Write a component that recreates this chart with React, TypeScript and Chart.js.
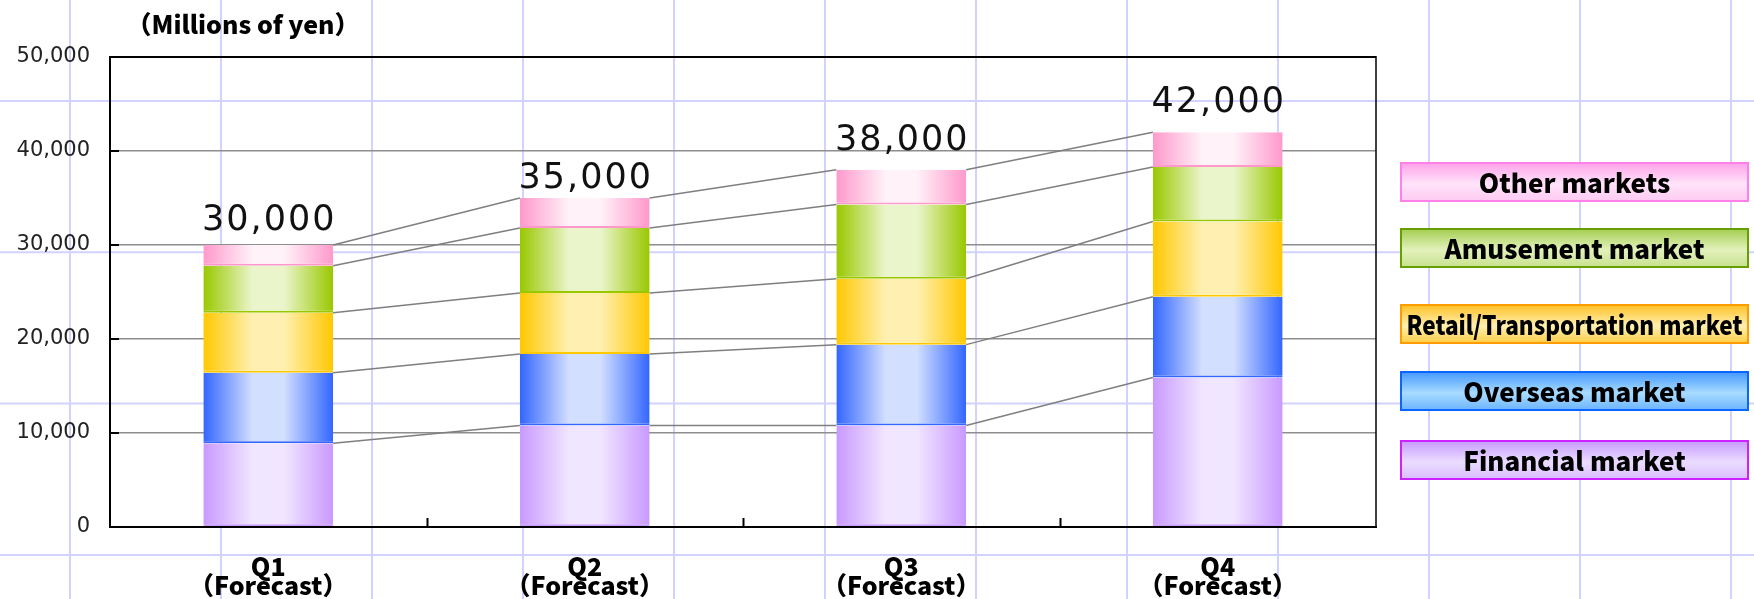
import { useEffect, useRef } from 'react';
import { Chart, registerables } from 'chart.js';

Chart.register(...registerables);

// ---- data ----
const quarters = ['Q1', 'Q2', 'Q3', 'Q4'];
const quarterNote = '（Forecast）';
const unitLabel = '（Millions of yen）';

const financial = [8900, 10800, 10800, 15900];
const overseas = [7500, 7600, 8600, 8600];
const retailTransport = [6400, 6500, 7000, 8000];
const amusement = [5000, 6900, 7900, 5800];
const otherMarkets = [2200, 3200, 3700, 3700];

const seriesNames = [
  'Financial market',
  'Overseas market',
  'Retail/Transportation market',
  'Amusement market',
  'Other markets',
];

const yMin = 0;
const yMax = 50000;
const yStep = 10000;

// ---- styles ----
const GOTHIC = '"Noto Sans CJK JP", "Noto Sans", sans-serif';
const NUMFONT = '"DejaVu Sans", "Noto Sans", sans-serif';

const barStyles = [
  { edge: '#c999ff', light: '#f1e6ff' },
  { edge: '#3366ff', light: '#d3dfff' },
  { edge: '#ffc800', light: '#fff0b2' },
  { edge: '#99c800', light: '#ebf5cc' },
  { edge: '#ff99cc', light: '#fff2f8' },
];

const legendStyles = [
  { border: '#cc22ff', top: '#c498ff', mid: '#ebdcff', bottom: '#d8bcff' },
  { border: '#0a66ff', top: '#3f95ff', mid: '#a8dcff', bottom: '#68b2ff' },
  { border: '#ff9c00', top: '#ffbf20', mid: '#fff0b0', bottom: '#ffcc40' },
  { border: '#66a000', top: '#a2cc4c', mid: '#e2f1bc', bottom: '#c6e08c' },
  { border: '#ff80e6', top: '#ff9fe9', mid: '#ffe4fa', bottom: '#ffc8f2' },
];

// gap (px) between each stack top and its total label baseline
const totalLabelGap = [15, 10, 20, 20];

const CANVAS_W = 1754;
const CANVAS_H = 599;

const seriesValues = [financial, overseas, retailTransport, amusement, otherMarkets];
const totals = quarters.map((_, i) => seriesValues.reduce((s, arr) => s + arr[i], 0));

function barGradient(ctx: any, styleIdx: number) {
  const chart = ctx.chart;
  const st = barStyles[styleIdx];
  const xScale = chart.scales?.x;
  if (!chart.chartArea || !xScale || ctx.dataIndex === undefined) return st.edge;
  const cx = xScale.getPixelForValue(ctx.dataIndex);
  const w = (xScale.width / quarters.length) * 0.41;
  const g = chart.ctx.createLinearGradient(cx - w / 2, 0, cx + w / 2, 0);
  g.addColorStop(0, st.edge);
  g.addColorStop(0.38, st.light);
  g.addColorStop(0.62, st.light);
  g.addColorStop(1, st.edge);
  return g;
}

// background lattice of the page
const backdropPlugin = {
  id: 'backdrop',
  beforeDraw(chart: any) {
    const { ctx, width, height } = chart;
    ctx.save();
    ctx.fillStyle = '#ffffff';
    ctx.fillRect(0, 0, width, height);
    ctx.strokeStyle = '#d2d2ff';
    ctx.lineWidth = 2;
    ctx.beginPath();
    for (let x = 70 - 151; x < width + 2; x += 151) {
      ctx.moveTo(x, 0);
      ctx.lineTo(x, height);
    }
    for (let y = 101 - 151.3; y < height + 2; y += 151.3) {
      ctx.moveTo(0, y);
      ctx.lineTo(width, y);
    }
    ctx.stroke();
    ctx.restore();
  },
};

// lines joining the stacked segment tops of neighbouring bars
const connectorPlugin = {
  id: 'connectors',
  afterDatasetsDraw(chart: any) {
    const { ctx } = chart;
    ctx.save();
    ctx.strokeStyle = '#7f7f7f';
    ctx.lineWidth = 1.5;
    chart.data.datasets.forEach((_: any, d: number) => {
      const meta = chart.getDatasetMeta(d);
      for (let i = 0; i < meta.data.length - 1; i++) {
        const a = meta.data[i].getProps(['x', 'y', 'width'], true);
        const b = meta.data[i + 1].getProps(['x', 'y', 'width'], true);
        ctx.beginPath();
        ctx.moveTo(a.x + a.width / 2, a.y);
        ctx.lineTo(b.x - b.width / 2, b.y);
        ctx.stroke();
      }
    });
    ctx.restore();
  },
};

// frame, inward ticks, totals, unit caption and legend panel
const decorPlugin = {
  id: 'decor',
  afterDraw(chart: any) {
    const { ctx, chartArea } = chart;
    const { left, right, top, bottom } = chartArea;
    const yScale = chart.scales.y;
    const xScale = chart.scales.x;
    ctx.save();

    // plot frame
    ctx.strokeStyle = '#000';
    ctx.lineWidth = 2;
    ctx.beginPath();
    ctx.moveTo(left, top);
    ctx.lineTo(right, top);
    ctx.moveTo(left, top - 1);
    ctx.lineTo(left, bottom + 1);
    ctx.moveTo(left - 1, bottom);
    ctx.lineTo(right + 1, bottom);
    ctx.stroke();
    ctx.lineWidth = 1.5;
    ctx.beginPath();
    ctx.moveTo(right, top - 1);
    ctx.lineTo(right, bottom);
    ctx.stroke();

    // inward tick marks
    ctx.lineWidth = 2;
    ctx.beginPath();
    for (let v = yMin; v <= yMax; v += yStep) {
      const y = Math.round(yScale.getPixelForValue(v));
      ctx.moveTo(left, y);
      ctx.lineTo(left + 9, y);
    }
    const cw = xScale.width / quarters.length;
    for (let i = 1; i < quarters.length; i++) {
      const x = Math.round(left + cw * i) + 0.5;
      ctx.moveTo(x, bottom);
      ctx.lineTo(x, bottom - 9);
    }
    ctx.stroke();

    // stack totals
    const topMeta = chart.getDatasetMeta(chart.data.datasets.length - 1);
    ctx.fillStyle = '#111';
    ctx.font = `35px ${NUMFONT}`;
    (ctx as any).letterSpacing = '2px';
    ctx.textAlign = 'center';
    ctx.textBaseline = 'alphabetic';
    totals.forEach((t, i) => {
      const el = topMeta.data[i].getProps(['x'], true);
      ctx.fillText(t.toLocaleString('en-US'), el.x + 1, yScale.getPixelForValue(t) - totalLabelGap[i]);
    });
    (ctx as any).letterSpacing = '0px';

    // unit caption
    ctx.fillStyle = '#000';
    ctx.font = `900 25px ${GOTHIC}`;
    ctx.textAlign = 'center';
    ctx.textBaseline = 'middle';
    ctx.fillText(unitLabel, 243, 24);

    // legend panel (top entry = top of stack)
    const boxX = 1400;
    const boxW = 349;
    const boxH = 40;
    const boxYs = [440, 371, 304, 228, 162];
    seriesNames.forEach((name, i) => {
      const st = legendStyles[i];
      const y = boxYs[i];
      const g = ctx.createLinearGradient(0, y, 0, y + boxH);
      g.addColorStop(0, st.top);
      g.addColorStop(0.55, st.mid);
      g.addColorStop(1, st.bottom);
      ctx.fillStyle = g;
      ctx.fillRect(boxX, y, boxW, boxH);
      ctx.strokeStyle = st.border;
      ctx.lineWidth = 2;
      ctx.strokeRect(boxX + 1, y + 1, boxW - 2, boxH - 2);
      ctx.fillStyle = '#000';
      ctx.font = `900 26px ${GOTHIC}`;
      ctx.textAlign = 'center';
      ctx.textBaseline = 'middle';
      ctx.fillText(name, boxX + boxW / 2, y + boxH / 2 + 1, 336);
    });

    ctx.restore();
  },
};

export default function App() {
  const canvasRef = useRef<HTMLCanvasElement | null>(null);

  useEffect(() => {
    if (!canvasRef.current) return;
    const chart = new Chart(canvasRef.current, {
      type: 'bar',
      data: {
        labels: quarters.map((q) => [q, quarterNote]),
        datasets: seriesValues.map((values, k) => ({
          label: seriesNames[k],
          data: values,
          backgroundColor: (c: any) => barGradient(c, k),
          borderColor: barStyles[k].edge,
          borderWidth: { top: 0, left: 0, right: 0, bottom: 2 },
          borderSkipped: false,
          categoryPercentage: 1,
          barPercentage: 0.41,
          stack: 'all',
        })),
      },
      options: {
        responsive: false,
        animation: false,
        devicePixelRatio: 1,
        layout: { padding: { left: 0, right: CANVAS_W - 1376, top: 57, bottom: 0 } },
        plugins: {
          legend: { display: false },
          tooltip: { enabled: false },
          title: { display: false },
        },
        scales: {
          x: {
            stacked: true,
            grid: { display: false },
            border: { display: false },
            ticks: {
              color: '#000',
              padding: 22,
              maxRotation: 0,
              autoSkip: false,
              font: { family: GOTHIC, size: 25, weight: '900', lineHeight: 0.75 },
            },
            afterFit: (s: any) => {
              s.height = CANVAS_H - 527;
            },
          },
          y: {
            stacked: true,
            min: yMin,
            max: yMax,
            grid: { color: '#8e8e8e', lineWidth: 1.5, drawTicks: false },
            border: { display: false },
            ticks: {
              stepSize: yStep,
              padding: 20,
              color: '#222',
              font: { family: NUMFONT, size: 21 },
              callback: (v: any) => Number(v).toLocaleString('en-US'),
            },
            afterFit: (s: any) => {
              s.width = 110;
            },
          },
        },
      },
      plugins: [backdropPlugin, connectorPlugin, decorPlugin],
    });
    return () => chart.destroy();
  }, []);

  return (
    <div style={{ position: 'fixed', left: 0, top: 0, width: CANVAS_W, height: CANVAS_H, background: '#fff' }}>
      <canvas ref={canvasRef} width={CANVAS_W} height={CANVAS_H} style={{ display: 'block' }} />
    </div>
  );
}
